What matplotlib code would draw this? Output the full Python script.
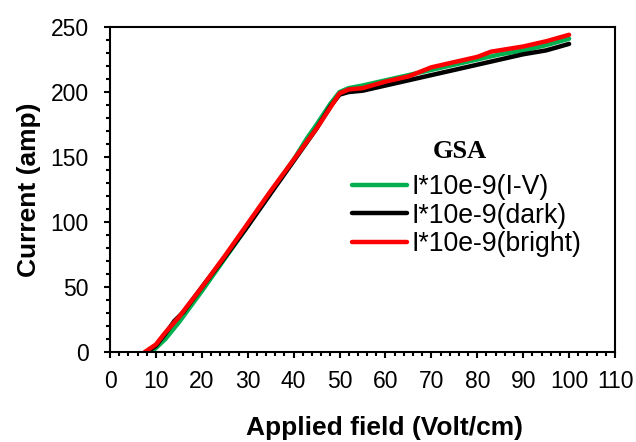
import matplotlib.pyplot as plt
from matplotlib.ticker import MultipleLocator

plt.rcParams['font.family'] = ['Liberation Sans', 'DejaVu Sans']

# I*10e-9 (I-V)
x_iv = [9, 12, 15, 20, 25, 30, 35, 40, 43, 45, 48, 50, 52, 55, 60, 65, 70, 75, 80, 85, 90, 95, 100]
y_iv = [0, 10, 23, 47, 72, 97, 123, 148, 165, 175, 191, 200, 203, 205, 209, 213, 217, 221, 225, 229, 232, 236, 241]

# I*10e-9 (dark)
x_dark = [8, 10, 12, 14, 16, 20, 25, 30, 35, 40, 45, 48, 50, 52, 55, 60, 65, 70, 75, 80, 85, 90, 95, 100]
y_dark = [0, 5, 14, 24, 31, 50, 73, 97, 122, 147, 172, 189, 198, 200, 201, 205, 209, 213, 217, 221, 225, 229, 232, 237]

# I*10e-9 (bright)
x_br = [7.5, 10, 12, 15, 20, 25, 30, 35, 40, 45, 50, 52, 55, 60, 65, 70, 75, 80, 83, 90, 95, 100]
y_br = [0, 6, 15, 27, 50, 74, 99, 124, 148, 172, 199, 202, 203, 208, 212, 219, 223, 227, 231, 235, 239, 244]

fig, ax = plt.subplots(figsize=(6.36, 4.42), dpi=100)
fig.subplots_adjust(left=0.173, right=0.967, top=0.939, bottom=0.203)

ax.plot(x_iv, y_iv, color='#00b050', lw=3.2, label='I*10e-9(I-V)', solid_capstyle='round')
ax.plot(x_dark, y_dark, color='black', lw=3.2, label='I*10e-9(dark)', solid_capstyle='round')
ax.plot(x_br, y_br, color='#ff0000', lw=3.2, label='I*10e-9(bright)', solid_capstyle='round')

ax.set_xlim(0, 110)
ax.set_ylim(0, 250)
ax.xaxis.set_major_locator(MultipleLocator(10))
ax.xaxis.set_minor_locator(MultipleLocator(2))
ax.yaxis.set_major_locator(MultipleLocator(50))
ax.yaxis.set_minor_locator(MultipleLocator(10))
ax.tick_params(which='major', direction='out', length=4.5, width=1.5, labelsize=16.5)
ax.tick_params(which='minor', direction='out', length=3, width=1.5)
ax.tick_params(axis='x', which='major', pad=8)
ax.tick_params(axis='y', which='major', pad=11)
for s in ax.spines.values():
    s.set_linewidth(1.5)

ax.set_xlabel('Applied field (Volt/cm)', fontsize=19, fontweight='bold', labelpad=17)
ax.xaxis.label.set_x(0.543)
ax.set_ylabel('Current (amp)', fontsize=19, fontweight='bold', labelpad=6.5)

fig.text(460 / 636, 1 - 152 / 442, 'GSA', ha='center', va='center',
         fontfamily='Liberation Serif', fontweight='bold', fontsize=19)

leg = ax.legend(loc='upper left', bbox_to_anchor=(352 / 636, 1 - 174 / 442),
                bbox_transform=fig.transFigure, frameon=False, borderaxespad=0, borderpad=0,
                fontsize=19.2, handlelength=2.06, labelspacing=0.1, handletextpad=0.19)

fig.savefig('out.png')
